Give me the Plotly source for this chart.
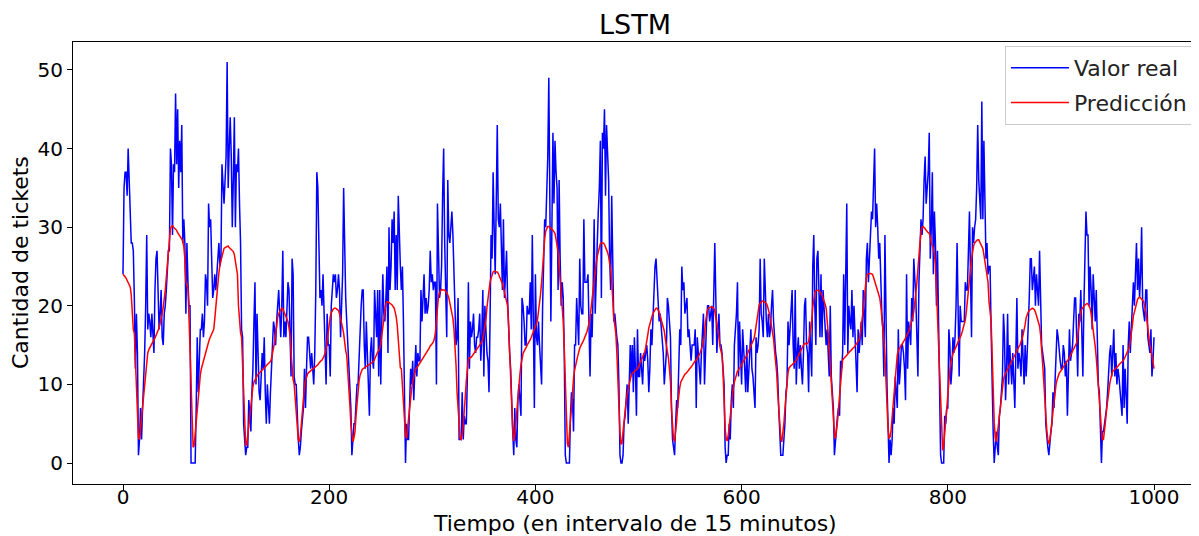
import plotly.graph_objects as go

title_text = "LSTM"
x_label = "Tiempo (en intervalo de 15 minutos)"
y_label = "Cantidad de tickets"
series_names = ["Valor real", "Predicción"]
x_ticks = [0, 200, 400, 600, 800, 1000]
y_ticks = [0, 10, 20, 30, 40, 50]

valor_real = [
    24, 35, 37, 37, 34, 40, 36, 32, 28, 28,
    27, 21, 12, 19, 14, 1, 3, 7, 3, 7,
    10, 14, 20, 29, 17, 19, 18, 16, 19, 16,
    14, 22, 26, 27, 22, 17, 19, 22, 16, 15,
    19, 20, 22, 25, 27, 27, 40, 38, 29, 38,
    37, 47, 38, 45, 35, 41, 37, 43, 28, 31,
    28, 19, 28, 23, 20, 20, 0, 0, 0, 0,
    0, 7, 16, 9, 12, 17, 17, 19, 16, 18,
    24, 23, 20, 33, 30, 31, 26, 21, 22, 24,
    22, 24, 25, 28, 25, 26, 38, 35, 33, 36,
    39, 51, 35, 40, 44, 39, 30, 36, 44, 30,
    38, 37, 40, 33, 28, 17, 16, 5, 3, 1,
    2, 2, 8, 6, 4, 9, 12, 18, 23, 10,
    19, 14, 9, 8, 11, 14, 12, 16, 9, 5,
    10, 8, 5, 9, 12, 15, 18, 17, 15, 18,
    21, 22, 19, 16, 20, 27, 16, 18, 16, 20,
    23, 22, 17, 11, 26, 24, 11, 10, 10, 5,
    3, 1, 2, 4, 6, 7, 12, 7, 12, 16,
    16, 14, 12, 14, 12, 10, 14, 22, 37, 35,
    28, 21, 22, 20, 24, 19, 16, 10, 19, 15,
    15, 11, 20, 22, 24, 23, 24, 21, 22, 24,
    22, 16, 20, 24, 35, 25, 21, 18, 15, 14,
    11, 7, 1, 3, 5, 5, 8, 10, 10, 14,
    18, 20, 22, 22, 15, 12, 18, 14, 11, 6,
    14, 16, 13, 12, 22, 18, 16, 22, 11, 22,
    10, 18, 24, 19, 18, 21, 25, 14, 30, 22,
    25, 31, 28, 32, 22, 29, 22, 34, 28, 25,
    22, 25, 18, 10, 0, 5, 3, 3, 9, 12,
    10, 13, 8, 12, 15, 11, 14, 13, 13, 22,
    18, 21, 24, 19, 21, 19, 20, 22, 27, 23,
    24, 22, 23, 23, 10, 33, 26, 21, 22, 25,
    34, 40, 28, 22, 16, 36, 29, 28, 30, 32,
    29, 25, 20, 15, 16, 21, 3, 3, 3, 9,
    3, 6, 5, 5, 11, 23, 12, 18, 16, 17,
    19, 15, 14, 16, 16, 17, 19, 13, 16, 22,
    11, 20, 16, 14, 13, 9, 18, 29, 26, 37,
    30, 24, 33, 43, 31, 30, 33, 28, 22, 31,
    21, 24, 27, 21, 17, 14, 12, 6, 4, 1,
    7, 3, 2, 8, 10, 8, 6, 21, 20, 18,
    15, 15, 20, 19, 19, 23, 17, 29, 20, 7,
    24, 16, 15, 18, 15, 12, 10, 20, 27, 31,
    30, 35, 39, 49, 35, 18, 30, 42, 33, 41,
    37, 35, 22, 36, 26, 20, 23, 21, 14, 1,
    0, 0, 0, 0, 6, 9, 8, 4, 15, 15,
    21, 18, 15, 26, 20, 19, 19, 31, 23, 23,
    23, 24, 18, 11, 19, 16, 22, 31, 19, 25,
    28, 32, 35, 41, 21, 42, 40, 45, 34, 43,
    40, 36, 26, 22, 34, 26, 18, 19, 17, 16,
    15, 10, 1, 0, 0, 1, 5, 6, 8, 10,
    5, 12, 15, 11, 15, 9, 16, 12, 6, 17,
    11, 11, 14, 12, 10, 14, 13, 14, 15, 13,
    9, 12, 17, 15, 19, 22, 25, 26, 23, 22,
    18, 19, 17, 16, 14, 10, 12, 14, 21, 20,
    18, 16, 7, 3, 2, 1, 5, 8, 7, 12,
    17, 15, 25, 22, 23, 19, 20, 21, 16, 17,
    15, 13, 15, 15, 15, 17, 7, 16, 14, 12,
    10, 14, 16, 19, 10, 15, 18, 20, 20, 18,
    19, 20, 15, 20, 28, 21, 14, 17, 19, 15,
    15, 14, 11, 10, 2, 0, 1, 1, 5, 3,
    8, 10, 7, 15, 17, 19, 23, 11, 18, 14,
    10, 17, 15, 12, 9, 15, 9, 12, 14, 17,
    12, 11, 9, 7, 16, 14, 15, 17, 26, 19,
    18, 16, 26, 21, 18, 16, 19, 16, 17, 20,
    22, 18, 15, 14, 13, 11, 7, 3, 1, 1,
    1, 3, 5, 9, 10, 18, 15, 17, 19, 22,
    15, 12, 22, 10, 14, 16, 12, 15, 12, 10,
    14, 20, 21, 15, 14, 9, 18, 14, 11, 25,
    29, 20, 15, 26, 27, 22, 16, 24, 16, 22,
    20, 18, 15, 17, 14, 11, 20, 11, 9, 7,
    1, 3, 4, 6, 7, 6, 13, 12, 14, 24,
    15, 22, 33, 14, 20, 18, 17, 22, 16, 20,
    16, 13, 9, 17, 14, 16, 18, 15, 22, 19,
    16, 26, 28, 23, 26, 28, 32, 31, 35, 40,
    30, 33, 30, 26, 28, 21, 19, 17, 11, 29,
    17, 10, 5, 0, 3, 1, 3, 7, 5, 11,
    9, 7, 17, 10, 12, 15, 15, 14, 12, 8,
    24, 12, 18, 16, 15, 21, 18, 26, 24, 21,
    16, 11, 23, 27, 31, 29, 31, 36, 39, 33,
    35, 37, 42, 26, 30, 37, 24, 32, 28, 20,
    27, 16, 10, 1, 0, 0, 0, 6, 5, 7,
    7, 17, 15, 10, 12, 16, 14, 16, 20, 28,
    17, 11, 20, 18, 18, 18, 18, 23, 22, 22,
    26, 32, 24, 16, 30, 28, 30, 31, 35, 43,
    36, 34, 31, 46, 31, 41, 33, 26, 28, 24,
    25, 25, 17, 9, 4, 0, 3, 4, 2, 1,
    6, 7, 9, 11, 19, 16, 8, 12, 19, 10,
    15, 12, 10, 14, 9, 7, 14, 21, 12, 14,
    13, 11, 17, 12, 10, 15, 11, 14, 17, 21,
    26, 26, 22, 24, 25, 20, 24, 22, 20, 27,
    18, 15, 14, 13, 12, 5, 3, 2, 1, 3,
    4, 5, 9, 7, 10, 12, 17, 16, 14, 13,
    12, 12, 15, 14, 11, 13, 6, 12, 17, 13,
    14, 15, 18, 21, 21, 15, 11, 19, 18, 22,
    15, 11, 20, 26, 32, 29, 29, 20, 25, 22,
    17, 24, 21, 18, 22, 16, 10, 9, 5, 0,
    4, 4, 5, 6, 7, 9, 12, 14, 15, 11,
    14, 17, 11, 14, 10, 12, 11, 9, 8, 6,
    15, 7, 12, 9, 5, 15, 18, 14, 17, 20,
    23, 20, 24, 28, 22, 26, 21, 24, 30, 20,
    19, 18, 22, 22, 16, 15, 14, 17, 11, 13,
    16,
]

prediccion = [
    24.0, 23.9, 23.7, 23.5, 23.2, 22.9, 22.6, 22.4, 21.4, 19.5,
    17.0, 16.5, 12.5, 9.0, 5.0, 3.2, 3.0, 4.5, 5.8, 7.0,
    8.6, 10.0, 11.8, 13.2, 14.0, 14.4, 14.7, 14.9, 15.1, 15.4,
    15.7, 15.9, 16.2, 16.5, 16.8, 17.2, 17.8, 18.3, 19.0, 19.8,
    20.7, 22.0, 23.6, 25.2, 27.0, 29.0, 29.8, 30.1, 30.2, 30.0,
    29.9, 29.8, 29.6, 29.3, 29.1, 29.0, 28.8, 28.5, 28.2, 27.5,
    26.0, 23.0, 22.6, 22.2, 18.5, 14.0, 8.0, 3.5, 2.0, 2.2,
    3.8, 5.3, 7.5, 9.0, 10.2, 11.2, 12.0, 12.5, 12.9, 13.5,
    14.0, 14.6, 15.2, 15.4, 15.8, 16.1, 16.4, 16.7, 17.0, 18.3,
    20.0, 21.5, 23.0, 24.2, 25.2, 25.8, 26.4, 26.9, 27.3, 27.4,
    27.5, 27.5, 27.6, 27.4, 27.3, 27.2, 27.0, 26.9, 26.5, 25.8,
    24.8, 24.0, 20.0, 17.5, 16.6, 16.0, 12.0, 8.0, 4.5, 2.3,
    2.3, 3.5, 5.0, 6.6, 7.8, 8.9, 9.7, 10.3, 10.6, 10.9,
    11.1, 11.3, 11.4, 11.6, 11.7, 11.8, 11.9, 12.0, 12.2, 12.4,
    12.5, 12.6, 12.8, 12.9, 13.3, 13.9, 14.5, 15.3, 16.3, 17.6,
    18.5, 19.0, 19.3, 19.6, 19.7, 19.6, 19.3, 19.0, 18.8, 18.5,
    18.0, 17.2, 16.3, 14.0, 11.5, 10.6, 10.0, 8.0, 5.8, 4.2,
    3.0, 2.7, 3.5, 5.0, 7.0, 8.6, 9.6, 10.5, 11.1, 11.3,
    11.5, 11.6, 11.7, 11.8, 12.0, 12.0, 12.1, 12.2, 12.3, 12.5,
    12.7, 12.9, 13.0, 13.1, 13.3, 13.6, 14.0, 14.5, 15.5, 16.8,
    18.0, 18.6, 19.1, 19.4, 19.6, 19.7, 19.7, 19.6, 19.5, 19.4,
    19.0, 18.5, 17.8, 17.2, 16.5, 15.2, 14.3, 13.7, 12.0, 10.0,
    7.5, 5.0, 3.5, 2.7, 3.2, 4.0, 6.0, 7.8, 9.3, 10.5,
    11.2, 11.6, 11.9, 12.0, 12.1, 12.2, 12.2, 12.3, 12.4, 12.5,
    12.6, 12.7, 12.8, 12.9, 13.2, 13.6, 13.8, 14.1, 14.3, 14.6,
    15.2, 16.3, 17.3, 18.8, 19.8, 20.3, 20.5, 20.5, 20.4, 20.3,
    20.3, 20.1, 19.9, 19.7, 19.2, 18.6, 17.5, 15.6, 13.5, 12.1,
    12.0, 9.5, 6.8, 4.5, 3.5, 3.1, 4.5, 5.8, 7.2, 8.3,
    9.5, 10.3, 11.0, 11.8, 12.0, 12.1, 12.3, 12.5, 12.7, 12.9,
    13.1, 13.3, 13.5, 13.7, 13.9, 14.1, 14.4, 14.6, 14.9, 15.0,
    15.2, 15.4, 15.8, 16.6, 18.4, 20.0, 21.2, 21.7, 22.0, 22.1,
    22.0, 22.0, 22.0, 21.8, 21.6, 21.4, 21.0, 20.4, 19.8, 19.2,
    18.4, 17.0, 15.3, 12.5, 9.0, 6.5, 4.3, 3.1, 3.0, 3.6,
    4.8, 6.2, 8.5, 10.5, 12.0, 13.2, 13.4, 13.4, 13.5, 13.7,
    13.9, 14.1, 14.3, 14.5, 14.7, 14.8, 15.0, 15.2, 15.4, 15.8,
    16.5, 17.1, 18.2, 19.8, 21.0, 22.2, 23.0, 23.5, 24.0, 24.3,
    24.4, 24.4, 24.3, 24.3, 24.1, 23.8, 23.5, 23.2, 22.8, 22.3,
    21.8, 21.2, 20.7, 20.0, 17.5, 14.0, 10.5, 7.0, 4.2, 2.8,
    3.5, 5.0, 6.8, 8.3, 10.0, 11.3, 12.5, 13.3, 13.9, 14.2,
    14.4, 14.7, 15.0, 15.2, 15.5, 15.7, 16.0, 16.3, 16.6, 16.9,
    17.3, 17.7, 18.2, 19.2, 20.5, 21.5, 23.0, 25.0, 27.2, 28.5,
    29.5, 29.9, 30.1, 30.1, 30.0, 29.8, 29.8, 29.6, 29.4, 29.2,
    28.5, 27.7, 26.8, 25.0, 23.5, 21.5, 20.0, 18.0, 14.5, 10.0,
    5.3, 2.5, 2.0, 3.3, 5.5, 7.0, 9.3, 10.8, 11.8, 12.6,
    13.0, 13.6, 14.2, 14.6, 14.9, 15.1, 15.4, 15.7, 16.0, 16.3,
    16.7, 17.2, 17.7, 18.5, 19.7, 21.0, 22.2, 23.3, 24.5, 25.5,
    26.3, 27.0, 27.6, 27.9, 28.0, 28.0, 28.0, 27.8, 27.5, 27.3,
    26.8, 26.3, 25.6, 24.5, 23.2, 20.5, 18.5, 17.5, 16.5, 14.0,
    9.8, 6.5, 4.0, 2.4, 2.5, 4.0, 5.5, 6.8, 7.8, 8.8,
    9.5, 10.1, 10.7, 11.2, 11.4, 11.5, 11.6, 11.8, 11.9, 12.0,
    12.3, 12.6, 12.9, 13.1, 13.4, 13.7, 14.1, 14.7, 15.3, 16.3,
    17.2, 17.8, 18.1, 18.6, 19.0, 19.3, 19.6, 19.7, 19.7, 19.5,
    19.2, 18.7, 18.2, 17.8, 17.3, 16.8, 15.8, 15.0, 14.2, 13.4,
    12.0, 10.3, 7.0, 4.2, 3.0, 2.7, 3.8, 5.3, 7.3, 8.8,
    9.6, 10.3, 10.6, 10.9, 11.1, 11.3, 11.4, 11.5, 11.7, 11.9,
    12.0, 12.2, 12.4, 12.6, 12.9, 13.0, 13.1, 13.3, 13.5, 13.8,
    14.1, 14.4, 14.9, 15.6, 16.3, 18.0, 19.0, 19.5, 19.7, 19.8,
    19.9, 19.9, 19.8, 19.7, 19.3, 18.6, 17.9, 17.0, 16.0, 14.8,
    14.3, 13.7, 11.5, 7.4, 4.5, 3.1, 2.8, 3.5, 4.8, 6.3,
    7.8, 8.8, 9.6, 10.3, 10.9, 11.5, 11.7, 11.8, 12.0, 12.2,
    12.5, 12.8, 13.0, 13.2, 13.5, 13.7, 14.0, 14.3, 14.6, 14.8,
    15.1, 15.3, 15.8, 16.5, 17.6, 18.5, 19.5, 20.1, 20.3, 20.5,
    20.6, 20.6, 20.5, 20.4, 20.3, 20.0, 19.6, 19.0, 18.2, 17.3,
    16.4, 15.8, 14.2, 12.8, 11.5, 9.0, 6.5, 4.5, 3.2, 2.7,
    3.6, 5.0, 6.8, 8.5, 10.0, 11.5, 12.1, 12.3, 12.4, 12.5,
    12.6, 12.8, 12.9, 13.1, 13.4, 13.6, 13.9, 14.2, 14.5, 14.7,
    15.0, 15.2, 15.2, 15.1, 15.2, 15.4, 16.2, 17.0, 18.0, 19.8,
    21.0, 21.7, 21.9, 22.0, 22.0, 21.9, 21.8, 21.6, 21.3, 21.0,
    20.6, 20.2, 19.7, 18.5, 16.5, 14.5, 12.5, 10.0, 7.8, 5.5,
    3.8, 3.1, 4.0, 5.3, 7.0, 8.8, 10.8, 12.4, 13.1, 13.3,
    13.4, 13.5, 13.7, 13.9, 14.1, 14.2, 14.3, 14.5, 14.6, 14.7,
    14.9, 15.0, 15.2, 15.5, 15.7, 16.3, 17.2, 18.0, 19.5, 21.0,
    22.5, 23.6, 24.0, 24.1, 24.1, 24.1, 24.0, 24.0, 23.6, 23.2,
    22.8, 22.4, 22.0, 21.5, 21.0, 20.0, 18.8, 17.5, 15.6, 13.7,
    10.0, 7.5, 4.5, 3.1, 3.3, 4.2, 5.8, 7.3, 9.0, 10.5,
    12.5, 13.8, 14.3, 14.6, 14.8, 15.0, 15.2, 15.4, 15.6, 15.9,
    16.2, 16.4, 16.7, 17.1, 17.5, 18.0, 18.6, 19.3, 20.2, 21.6,
    23.0, 25.0, 26.6, 28.0, 29.5, 30.0, 30.1, 30.0, 29.8, 29.6,
    29.4, 29.3, 29.2, 28.8, 28.0, 27.6, 27.3, 26.5, 25.2, 22.0,
    18.5, 14.5, 10.5, 7.0, 3.0, 1.6, 2.2, 4.0, 5.6, 7.3,
    8.7, 10.3, 11.8, 12.9, 13.6, 13.9, 14.2, 14.5, 14.7, 15.0,
    15.2, 15.5, 15.9, 16.3, 16.7, 17.1, 17.6, 18.2, 19.3, 20.5,
    21.5, 23.0, 24.6, 26.0, 27.0, 27.6, 28.0, 28.2, 28.3, 28.4,
    28.4, 28.1, 27.8, 27.6, 27.3, 26.5, 25.5, 25.0, 24.0, 23.0,
    20.5, 18.6, 18.0, 14.0, 9.0, 5.2, 3.2, 2.7, 3.6, 4.8,
    6.5, 7.6, 8.8, 9.8, 10.6, 11.1, 11.4, 11.7, 11.9, 12.2,
    12.5, 12.8, 13.0, 13.2, 13.5, 13.7, 14.0, 14.2, 14.5, 14.8,
    15.0, 15.3, 15.8, 16.3, 16.8, 17.6, 18.5, 19.0, 19.2, 19.4,
    19.5, 19.7, 19.7, 19.6, 19.5, 19.2, 18.8, 18.4, 18.0, 17.4,
    16.3, 14.8, 12.6, 10.5, 8.2, 6.0, 4.2, 3.0, 2.4, 3.0,
    3.9, 5.2, 6.5, 7.8, 9.0, 10.0, 10.6, 11.1, 11.4, 11.6,
    11.8, 11.9, 12.1, 12.4, 12.6, 12.8, 12.9, 13.1, 13.4, 13.7,
    14.0, 14.3, 14.5, 14.8, 15.0, 15.3, 16.2, 17.5, 18.6, 19.2,
    19.6, 19.8, 20.0, 20.1, 20.2, 20.3, 20.2, 20.0, 19.7, 19.0,
    18.1, 17.2, 16.3, 14.8, 13.4, 11.8, 10.2, 8.5, 6.2, 4.2,
    2.9, 3.0, 4.0, 5.4, 6.8, 8.0, 9.2, 10.0, 10.7, 11.3,
    11.7, 11.8, 11.9, 12.0, 12.2, 12.3, 12.5, 12.6, 12.7, 12.8,
    13.0, 13.2, 13.5, 13.8, 14.1, 14.4, 14.7, 15.5, 16.3, 17.5,
    18.7, 19.3, 19.9, 20.4, 20.8, 21.0, 21.1, 21.0, 20.9, 20.7,
    20.5, 20.0, 19.3, 18.3, 17.0, 15.8, 15.0, 14.5, 13.5, 12.3,
    12.0,
]

x_real = list(range(len(valor_real)))
x_pred = list(range(len(prediccion)))

font_family = "DejaVu Sans"

fig = go.Figure()
fig.add_trace(go.Scatter(
    x=x_real, y=valor_real, mode="lines", name=series_names[0],
    legendgroup="a", line=dict(color="#0000ff", width=1.5),
))
fig.add_trace(go.Scatter(
    x=x_pred, y=prediccion, mode="lines", name=series_names[1],
    legendgroup="b", line=dict(color="#ff0000", width=1.5),
))

# the page body has an 8px default margin, so the figure is 8px smaller
fig.update_layout(
    width=1191, height=528,
    margin=dict(l=65, r=2, t=34, b=52, autoexpand=False),
    paper_bgcolor="white", plot_bgcolor="white",
    font=dict(family=font_family, color="black", size=20),
    title=dict(text=title_text, x=0.5, xref="paper", xanchor="center",
               y=1 - 17 / 528, yanchor="middle", yref="container",
               font=dict(size=27, family=font_family, color="black")),
    showlegend=True,
    legend=dict(x=0.9964, y=0.991, xanchor="right", yanchor="top",
                bgcolor="rgba(255,255,255,0.8)", bordercolor="#cccccc", borderwidth=1,
                tracegroupgap=3, itemwidth=58,
                font=dict(size=22, family=font_family, color="#222222")),
    annotations=[
        dict(text=x_label, xref="paper", yref="paper", x=0.5, y=0, xanchor="center",
             yanchor="middle", yshift=-39, showarrow=False,
             font=dict(size=22, family=font_family, color="black")),
        dict(text=y_label, xref="paper", yref="paper", x=0, y=0.5, xanchor="center",
             yanchor="middle", xshift=-53, textangle=-90, showarrow=False,
             font=dict(size=22, family=font_family, color="black")),
    ],
)
fig.update_xaxes(
    range=[-48.5, 1041.7], tickvals=x_ticks, ticktext=[str(v) for v in x_ticks],
    showgrid=False, zeroline=False, showline=True, linecolor="black", linewidth=1,
    mirror=True, ticks="outside", ticklen=5, tickcolor="black", automargin=False,
    ticklabelstandoff=-10,
    tickfont=dict(size=20, family=font_family, color="black"),
)
fig.update_yaxes(
    range=[-2.67, 53.56], tickvals=y_ticks, ticktext=[str(v) for v in y_ticks],
    showgrid=False, zeroline=False, showline=True, linecolor="black", linewidth=1,
    mirror=True, ticks="outside", ticklen=5, tickcolor="black", automargin=False,
    tickfont=dict(size=20, family=font_family, color="black"),
)

fig.write_html("out.html")
